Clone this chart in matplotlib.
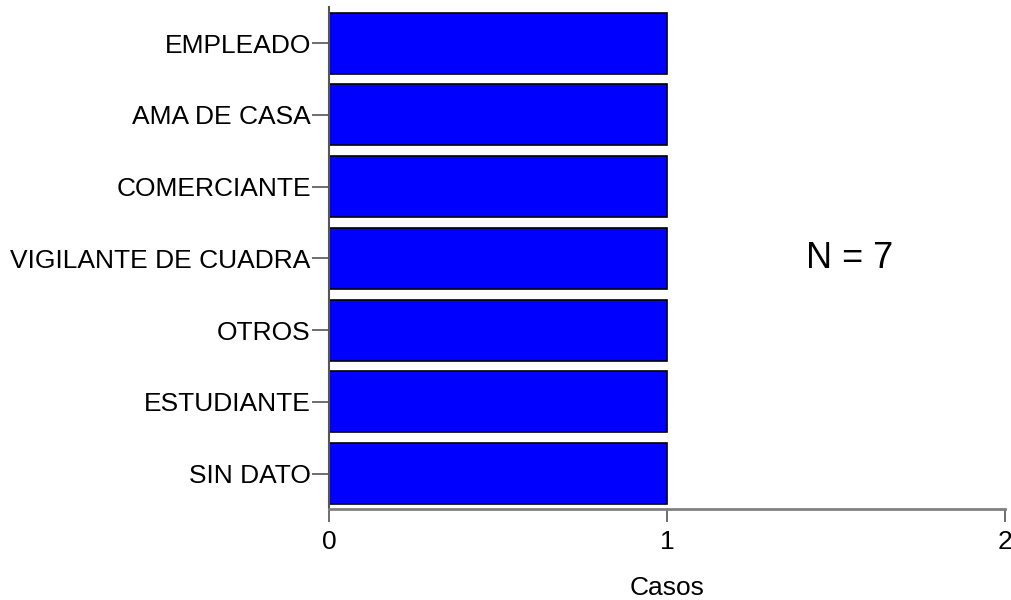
import matplotlib
matplotlib.use("Agg")
import matplotlib.pyplot as plt

categorias = ["EMPLEADO", "AMA DE CASA", "COMERCIANTE", "VIGILANTE DE CUADRA",
              "OTROS", "ESTUDIANTE", "SIN DATO"]
casos = [1, 1, 1, 1, 1, 1, 1]
xticks = [0, 1, 2]
nota = "N = 7"

plt.rcParams["font.family"] = ["Liberation Sans", "DejaVu Sans"]

fig = plt.figure(figsize=(10.12, 6.0), dpi=100)
ax = fig.add_axes([0.325, 0.151, 0.668, 0.837])

pos = list(range(len(categorias)))
ax.barh(pos, casos, height=0.85, color="#0000ff", edgecolor="black", linewidth=1.2)

ax.set_ylim(6.5, -0.5)
ax.set_xlim(0, 2)
ax.set_yticks(pos)
ax.set_yticklabels(categorias, fontsize=19)
ax.set_xticks(xticks)
ax.set_xticklabels([str(t) for t in xticks], fontsize=19)

for s in ["top", "right"]:
    ax.spines[s].set_visible(False)
ax.spines["left"].set_color("#555555")
ax.spines["bottom"].set_color("#808080")
ax.spines["left"].set_linewidth(1.5)
ax.spines["bottom"].set_linewidth(2)
ax.tick_params(axis="y", length=12, width=1.2, color="#555555", pad=1)
ax.tick_params(axis="x", length=9, width=1.2, color="#555555", pad=6)

ax.set_xlabel("Casos", fontsize=19)
ax.xaxis.set_label_coords(0.5, -0.156)
ax.xaxis.label.set_va("center")

ax.text(1.54, 3, nota, ha="center", va="center", fontsize=26)

fig.savefig("out.png", dpi=100)
